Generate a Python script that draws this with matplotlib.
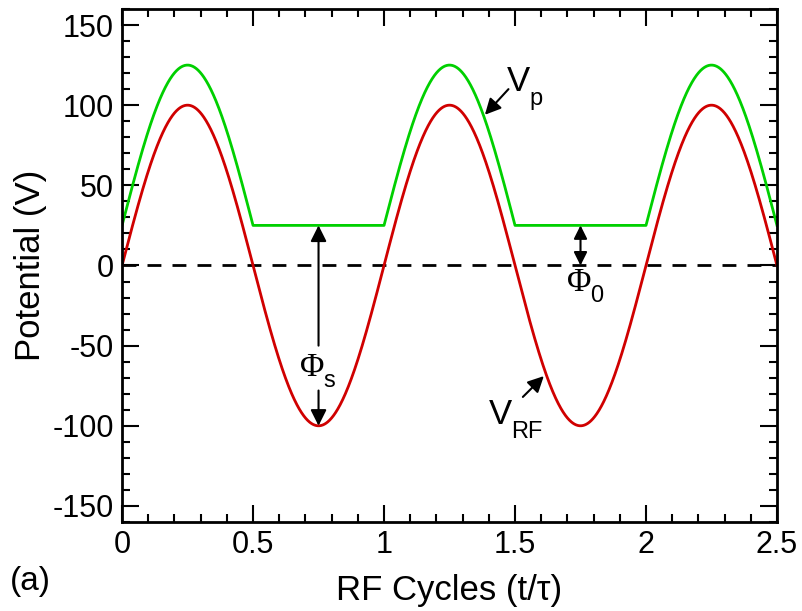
import numpy as np
import matplotlib
matplotlib.use("Agg")
import matplotlib.pyplot as plt
from matplotlib.ticker import MultipleLocator

# values
rf_amplitude = 100.0     # V, peak of V_RF
phi_0 = 25.0             # V, floor of V_p
n_cycles = 2.5           # RF cycles shown
x_ticks = [0, 0.5, 1, 1.5, 2, 2.5]
x_tick_labels = ["0", "0.5", "1", "1.5", "2", "2.5"]
y_ticks = [-150, -100, -50, 0, 50, 100, 150]

t = np.linspace(0, n_cycles, 2001)
v_rf = rf_amplitude * np.sin(2 * np.pi * t)
v_p = np.maximum(v_rf + phi_0, phi_0)

plt.rcParams["font.family"] = ["Liberation Sans", "DejaVu Sans"]
plt.rcParams["axes.unicode_minus"] = False

fig = plt.figure(figsize=(8.03, 6.11), dpi=100)
ax = fig.add_axes([0.152, 0.1457, 0.8156, 0.8396])

ax.axhline(0, color="black", lw=2, ls=(0, (5, 4)), zorder=1)
ax.plot(t, v_rf, color="#d00000", lw=2, zorder=2)
ax.plot(t, v_p, color="#00d000", lw=2, zorder=2)

ax.set_xlim(0, n_cycles)
ax.set_ylim(-160, 160)
ax.set_xticks(x_ticks)
ax.set_xticklabels(x_tick_labels)
ax.set_yticks(y_ticks)
ax.xaxis.set_minor_locator(MultipleLocator(0.1))
ax.yaxis.set_minor_locator(MultipleLocator(10))
ax.tick_params(which="both", direction="in", top=True, right=True, width=1.5, labelsize=22)
ax.tick_params(which="major", length=12, pad=6)
ax.tick_params(which="minor", length=6)
for s in ax.spines.values():
    s.set_linewidth(2)

ax.set_xlabel("RF Cycles (t/\u03c4)", fontsize=25, labelpad=10)
ax.set_ylabel("Potential (V)", fontsize=25, labelpad=4)

arrow = dict(arrowstyle="-|>", color="black", lw=1.5, mutation_scale=24, shrinkA=0, shrinkB=0)

# V_p label
ax.annotate("", xy=(1.385, 94), xytext=(1.475, 110), arrowprops=arrow)
ax.text(1.47, 115, "V", fontsize=25, ha="left", va="center")
ax.text(1.555, 104, "p", fontsize=17, ha="left", va="center")

# V_RF label
ax.annotate("", xy=(1.61, -69), xytext=(1.53, -82), arrowprops=arrow)
ax.text(1.40, -93, "V", fontsize=25, ha="left", va="center")
ax.text(1.485, -104, "RF", fontsize=17, ha="left", va="center")

# Phi_s
ax.annotate("", xy=(0.75, phi_0), xytext=(0.75, -50), arrowprops=arrow)
ax.annotate("", xy=(0.75, -rf_amplitude), xytext=(0.75, -78), arrowprops=arrow)
ax.text(0.68, -64, "\u03a6", fontsize=24, family="Liberation Serif", ha="left", va="center")
ax.text(0.77, -72, "s", fontsize=17, ha="left", va="center")

# Phi_0
ax.annotate("", xy=(1.75, phi_0), xytext=(1.75, 0),
            arrowprops=dict(arrowstyle="<|-|>", color="black", lw=1.5, mutation_scale=20,
                            shrinkA=0, shrinkB=0))
ax.text(1.70, -11, "\u03a6", fontsize=24, family="Liberation Serif", ha="left", va="center")
ax.text(1.785, -19, "0", fontsize=17, ha="left", va="center")

fig.text(0.012, 0.049, "(a)", fontsize=24, ha="left", va="center")

fig.savefig("out.png", dpi=100)
